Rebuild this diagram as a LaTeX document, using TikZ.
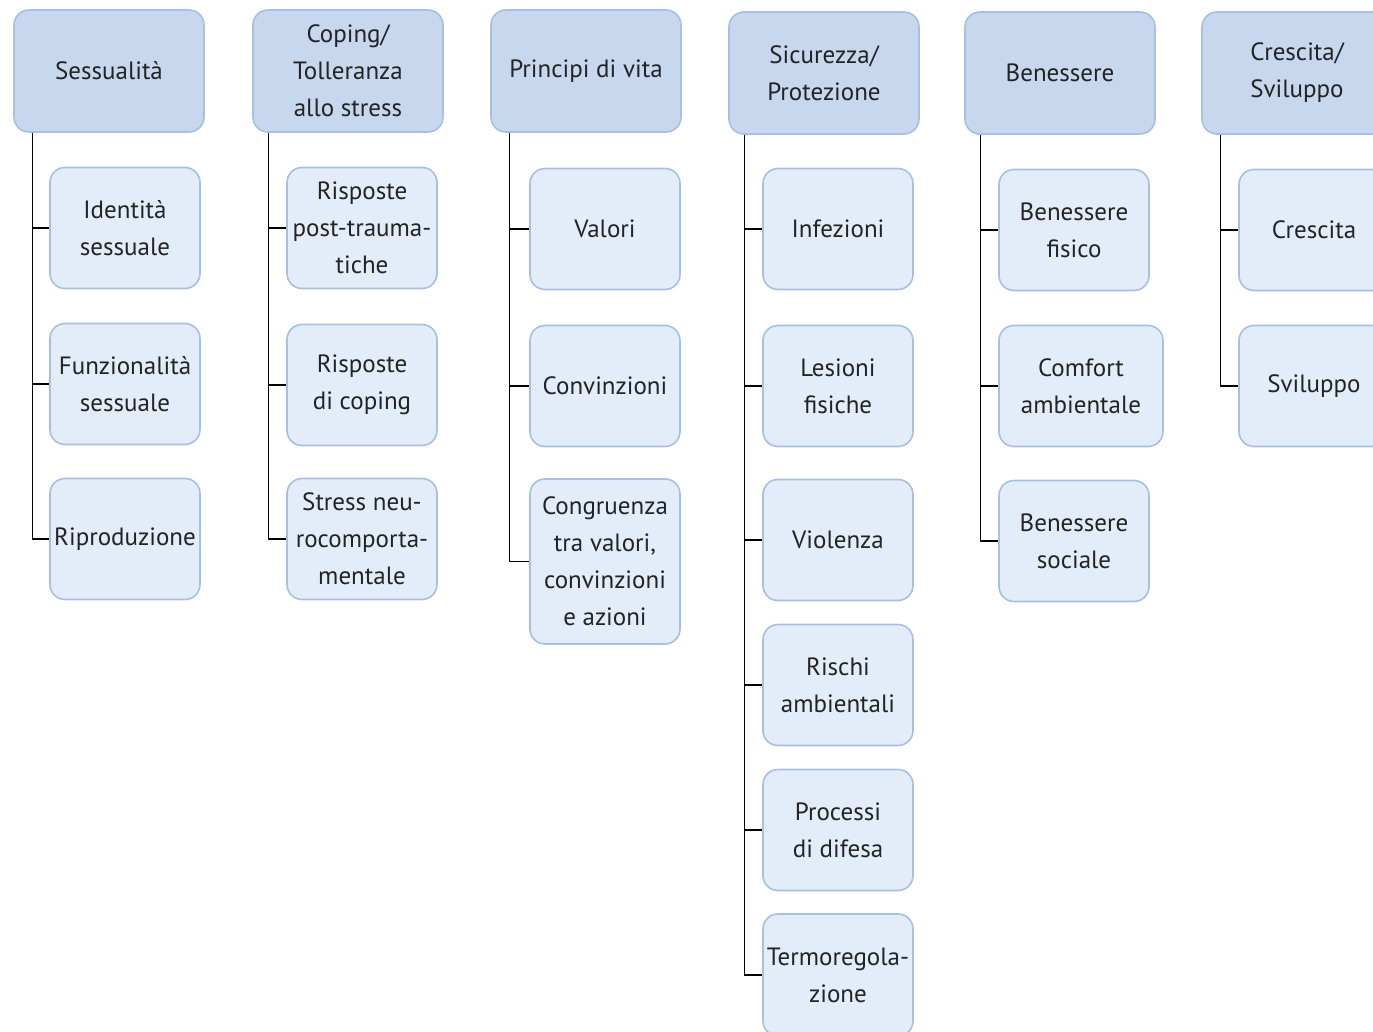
\documentclass[tikz,border=0pt]{standalone}
\usepackage{fontspec}
\setmainfont{PT Sans}
\definecolor{headfill}{RGB}{199,215,237}
\definecolor{itemfill}{RGB}{227,237,250}
\definecolor{boxline}{RGB}{166,191,226}
\definecolor{ink}{RGB}{35,35,35}
\begin{document}
\begin{tikzpicture}[x=1pt,y=-1pt,
  every node/.style={inner sep=0pt, align=center, text=ink,
    font=\fontsize{25}{37}\selectfont},
  box/.style={draw=boxline, line width=1.6pt, rounded corners=15pt},
  head/.style={box, fill=headfill, minimum width=190pt, minimum height=122pt},
  item/.style={box, fill=itemfill, minimum width=150pt, minimum height=121pt},
  tree/.style={line width=1.3pt, draw=black}]
\useasboundingbox (0,0) rectangle (1373,1032);
\clip (0,0) rectangle (1373,1032);

% category headers
\node[head] (h1) at (109,71) {Sessualità};
\node[head] (h2) at (348,71) {Coping/\\Tolleranza\\allo stress};
\node[head] (h3) at (586,71) {Principi di vita};
\node[head] (h4) at (824,73) {Sicurezza/\\Protezione};
\node[head] (h5) at (1060,73) {Benessere};
\node[head] (h6) at (1297,73) {Crescita/\\Sviluppo};

% trunk start points
\coordinate (t1) at ([xshift=19pt]h1.south west);
\coordinate (t2) at ([xshift=16pt]h2.south west);
\coordinate (t3) at ([xshift=19pt]h3.south west);
\coordinate (t4) at ([xshift=16pt]h4.south west);
\coordinate (t5) at ([xshift=16pt]h5.south west);
\coordinate (t6) at ([xshift=19pt]h6.south west);

% column 1
\node[item] (c11) at (125,228) {Identità\\sessuale};
\node[item] (c12) at (125,384) {Funzionalità\\sessuale};
\node[item] (c13) at (125,539) {Riproduzione};
% column 2
\node[item] (c21) at (362,228) {Risposte\\post-trauma-\\tiche};
\node[item] (c22) at (362,385) {Risposte\\di coping};
\node[item] (c23) at (362,539) {Stress neu-\\rocomporta-\\mentale};
% column 3
\node[item] (c31) at (605,229) {Valori};
\node[item] (c32) at (605,386) {Convinzioni};
\node[item, minimum height=165pt] (c33) at (605,561.5) {Congruenza\\tra valori,\\convinzioni\\e azioni};
% column 4
\node[item] (c41) at (838,229) {Infezioni};
\node[item] (c42) at (838,386) {Lesioni\\fisiche};
\node[item] (c43) at (838,540) {Violenza};
\node[item] (c44) at (838,685) {Rischi\\ambientali};
\node[item] (c45) at (838,830) {Processi\\di difesa};
\node[item, minimum height=122pt] (c46) at (838,975) {Termoregola-\\zione};
% column 5
\node[item] (c51) at (1074,230) {Benessere\\fisico};
\node[item, minimum width=164pt] (c52) at (1081,386) {Comfort\\ambientale};
\node[item] (c53) at (1074,541) {Benessere\\sociale};
% column 6
\node[item] (c61) at (1314,230) {Crescita};
\node[item] (c62) at (1314,386) {Sviluppo};

% connectors
\draw[tree] (t1) |- (c13.west);
\foreach \c in {c11,c12} \draw[tree] (\c.west -| t1) -- (\c.west);
\draw[tree] (t2) |- (c23.west);
\foreach \c in {c21,c22} \draw[tree] (\c.west -| t2) -- (\c.west);
\draw[tree] (t3) |- (c33.west);
\foreach \c in {c31,c32} \draw[tree] (\c.west -| t3) -- (\c.west);
\draw[tree] (t4) |- (c46.west);
\foreach \c in {c41,c42,c43,c44,c45} \draw[tree] (\c.west -| t4) -- (\c.west);
\draw[tree] (t5) |- (c53.west);
\foreach \c in {c51,c52} \draw[tree] (\c.west -| t5) -- (\c.west);
\draw[tree] (t6) |- (c62.west);
\draw[tree] (c61.west -| t6) -- (c61.west);
\end{tikzpicture}
\end{document}
